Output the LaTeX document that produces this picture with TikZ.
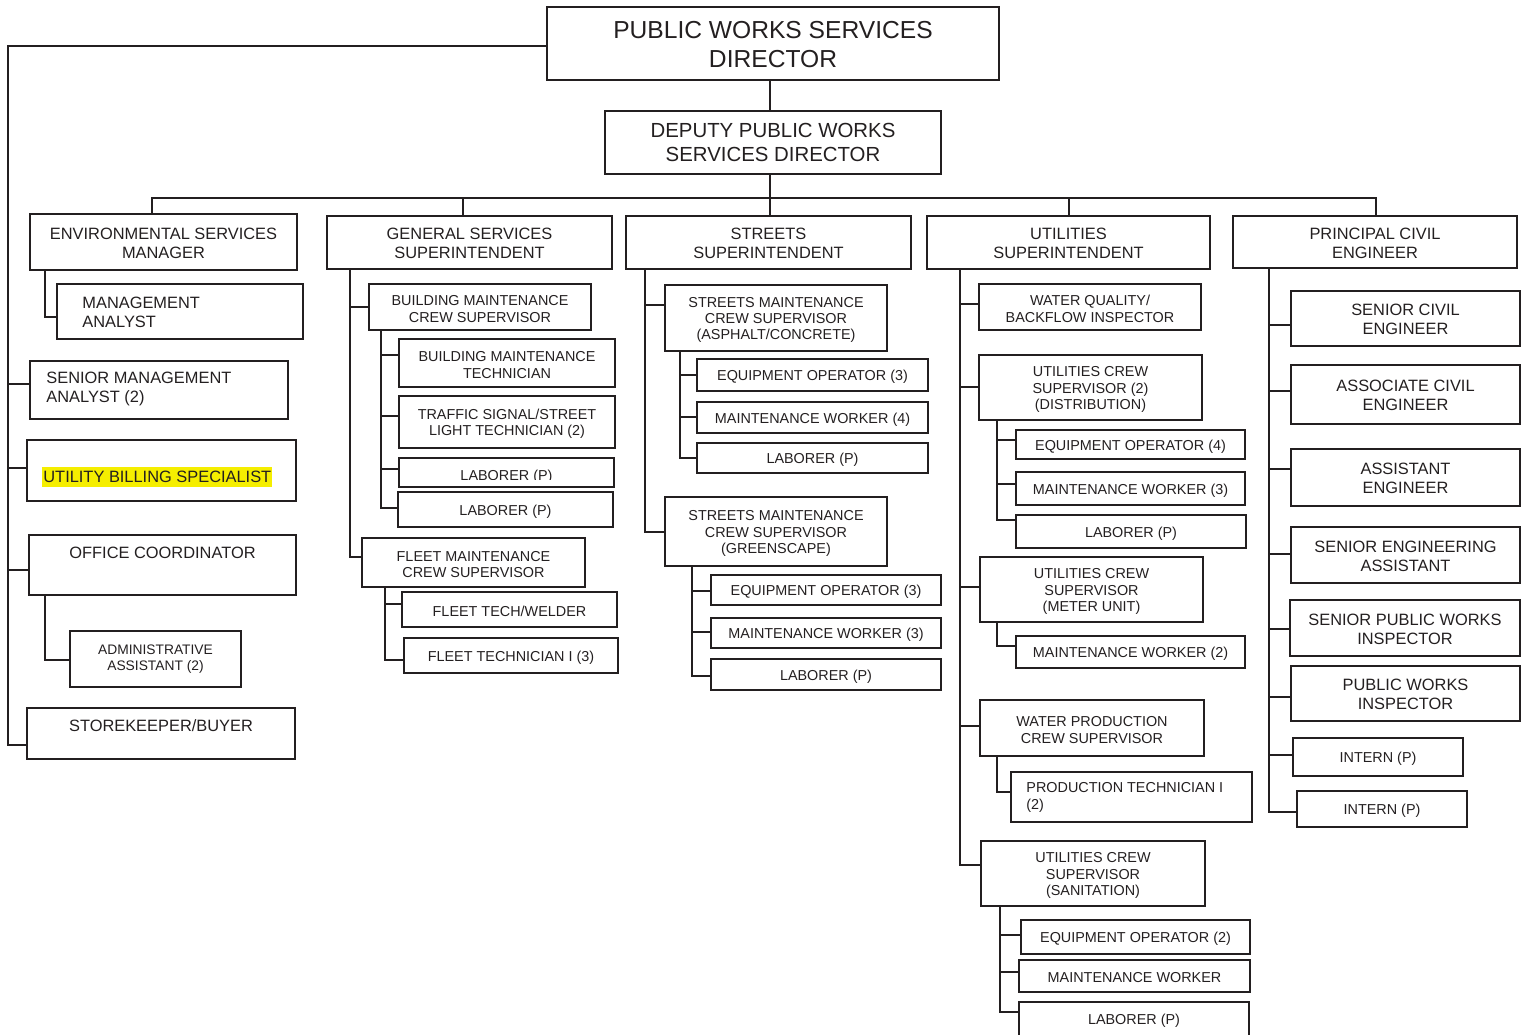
\documentclass[tikz,border=0pt]{standalone}
\usepackage{fontspec}
\setmainfont{Liberation Sans}
\definecolor{ink}{HTML}{231F20}
\definecolor{hl}{HTML}{F5EE00}
\newcommand\fsTitle{\fontsize{12.3}{14.5}\selectfont}
\newcommand\fsDep{\fontsize{10.2}{12}\selectfont}
\newcommand\fsMid{\fontsize{8.2}{9.6}\selectfont}
\newcommand\fsSmall{\fontsize{7.2}{8.2}\selectfont}
\newcommand\fsTiny{\fontsize{6.9}{8.2}\selectfont}
\tikzset{
 box/.style={draw=ink, line width=0.85pt, inner sep=0pt},
 btext/.style={inner sep=0pt, align=center, text=ink, font=\fsSmall, yshift=-1pt},
 fTitle/.style={font=\fsTitle, yshift=0.25pt}, fDep/.style={font=\fsDep, yshift=1pt},
 fMid/.style={font=\fsMid, yshift=0.5pt}, fTiny/.style={font=\fsTiny, yshift=1pt},
 conn/.style={draw=ink, line width=0.85pt},
 lbl/.style={inner sep=0pt, text=ink, align=left, font=\fsMid},
}
\newcommand\ob[7][]{\node[box,minimum width={(#5-#3)*0.5pt},minimum height={(#6-#4)*0.5pt}] (#2) at ({(#3+#5)/2},{(#4+#6)/2}) {};
  \node[btext,#1] (#2t) at (#2.center) {#7};}
\newcommand\br[4]{\draw[conn] (#1,0 |- #2.south) |- (#3.west |- 0,#4);}
\begin{document}
\begin{tikzpicture}[x=0.5pt,y=-0.5pt]
\useasboundingbox (0,0) rectangle (1530,1034);
\clip (0,0) rectangle (1530,1034);
% top
\ob[fTitle]{dir}{547}{7}{999}{80}{PUBLIC WORKS SERVICES\\DIRECTOR}
\ob[fDep]{dep}{605}{111}{941}{174}{DEPUTY PUBLIC WORKS\\SERVICES DIRECTOR}
% level 2
\ob[fMid]{env}{30}{214}{297}{270}{ENVIRONMENTAL SERVICES\\MANAGER}
\ob[fMid]{gs}{327}{216}{612}{269}{GENERAL SERVICES\\SUPERINTENDENT}
\ob[fMid]{st}{626}{216}{911}{269}{STREETS\\SUPERINTENDENT}
\ob[fMid]{ut}{927}{216}{1210}{269}{UTILITIES\\SUPERINTENDENT}
\ob[fMid]{pce}{1233}{216}{1517}{268}{PRINCIPAL CIVIL\\ENGINEER}
\coordinate (busL) at (152,198);
\coordinate (busR) at (1376,198);
\coordinate (busM) at (770,198);
\draw[conn] (dir.south -| busM) -- (dep.north -| busM);
\draw[conn] (dep.south -| busM) -- (st.north -| busM);
\draw[conn] (env.north -| busL) -- (busL) -- (busR) -- (pce.north -| busR);
\draw[conn] (gs.north -| 463,0) -- (463,198);
\draw[conn] (ut.north -| 1069,0) -- (1069,198);
% environmental / left column
\ob{ma}{57}{284}{303}{339}{}
\node[lbl, anchor=west] (maT) at (82,312) {MANAGEMENT\\ANALYST};
\ob{sma}{30}{361}{288}{419}{}
\node[lbl, anchor=west] (smaT) at (46,389) {SENIOR MANAGEMENT\\ANALYST (2)};
\ob{ubs}{27}{440}{296}{501}{}
\fill[hl] (42,467) rectangle (272,487);
\node[lbl, anchor=west] (ubsT) at (43,477) {UTILITY BILLING SPECIALIST};
\ob{oc}{29}{535}{296}{595}{}
\node[lbl] (ocT) at (162.5,553) {OFFICE COORDINATOR};
\ob[fTiny]{aa}{70}{631}{241}{687}{ADMINISTRATIVE\\ASSISTANT (2)}
\ob{sk}{27}{708}{295}{759}{}
\node[lbl] (skT) at (161,726) {STOREKEEPER/BUYER};
\br{45}{env}{ma}{317}
\br{45}{oc}{aa}{660}
\coordinate (lc) at (8,46);
\draw[conn] (dir.west |- lc) -- (lc) -- (lc |- 0,745) -- (sk.west |- 0,745);
\draw[conn] (8,384) -- (sma.west |- 0,384);
\draw[conn] (8,468) -- (ubs.west |- 0,468);
\draw[conn] (8,570) -- (oc.west |- 0,570);
% general services
\ob{bmcs}{369}{284}{591}{330}{BUILDING MAINTENANCE\\CREW SUPERVISOR}
\ob{bmt}{399}{339}{615}{387}{BUILDING MAINTENANCE\\TECHNICIAN}
\ob{tssl}{399}{396}{615}{448}{TRAFFIC SIGNAL/STREET\\LIGHT TECHNICIAN (2)}
\ob{labA}{399}{458}{614}{487}{}
\begin{scope}
\clip (399,458) rectangle (614,479.5);
\node[lbl, font=\fsSmall, anchor=base] (labAT) at (506.5,480.5) {LABORER (P)};
\end{scope}
\ob{labB}{398}{492}{613}{527}{LABORER (P)}
\ob{fmcs}{362}{538}{585}{587}{FLEET MAINTENANCE\\CREW SUPERVISOR}
\ob{ftw}{402}{592}{617}{627}{FLEET TECH/WELDER}
\ob{fti}{404}{638}{618}{673}{FLEET TECHNICIAN I (3)}
\br{350}{gs}{bmcs}{307}
\br{350}{gs}{fmcs}{557}
\br{381}{bmcs}{bmt}{355}
\br{381}{bmcs}{tssl}{416}
\br{381}{bmcs}{labA}{469}
\br{381}{bmcs}{labB}{508}
\br{385}{fmcs}{ftw}{604}
\br{385}{fmcs}{fti}{660}
% streets
\ob{sa}{665}{285}{887}{351}{STREETS MAINTENANCE\\CREW SUPERVISOR\\(ASPHALT/CONCRETE)}
\ob{saEO}{697}{359}{928}{391}{EQUIPMENT OPERATOR (3)}
\ob{saMW}{697}{402}{928}{433}{MAINTENANCE WORKER (4)}
\ob{saLA}{697}{443}{928}{473}{LABORER (P)}
\ob{sg}{665}{497}{887}{566}{STREETS MAINTENANCE\\CREW SUPERVISOR\\(GREENSCAPE)}
\ob{sgEO}{711}{575}{941}{605}{EQUIPMENT OPERATOR (3)}
\ob{sgMW}{711}{618}{941}{648}{MAINTENANCE WORKER (3)}
\ob{sgLA}{711}{659}{941}{690}{LABORER (P)}
\br{645}{st}{sa}{305}
\br{645}{st}{sg}{532}
\br{680}{sa}{saEO}{375}
\br{680}{sa}{saMW}{417}
\br{680}{sa}{saLA}{458}
\br{692}{sg}{sgEO}{591}
\br{692}{sg}{sgMW}{632}
\br{692}{sg}{sgLA}{676}
% utilities
\ob{wq}{979}{284}{1201}{330}{WATER QUALITY/\\BACKFLOW INSPECTOR}
\ob{ud}{979}{355}{1202}{420}{UTILITIES CREW\\SUPERVISOR (2)\\(DISTRIBUTION)}
\ob{udEO}{1016}{430}{1245}{459}{EQUIPMENT OPERATOR (4)}
\ob{udMW}{1016}{472}{1245}{505}{MAINTENANCE WORKER (3)}
\ob{udLA}{1016}{515}{1246}{548}{LABORER (P)}
\ob{um}{980}{557}{1203}{622}{UTILITIES CREW\\SUPERVISOR\\(METER UNIT)}
\ob{umMW}{1016}{636}{1245}{668}{MAINTENANCE WORKER (2)}
\ob{wp}{980}{700}{1204}{756}{WATER PRODUCTION\\CREW SUPERVISOR}
\ob{pt}{1011}{772}{1252}{822}{}
\node[lbl, font=\fsSmall, anchor=west] (ptT) at (1026,797.5) {PRODUCTION TECHNICIAN I\\(2)};
\ob{us}{981}{841}{1205}{906}{UTILITIES CREW\\SUPERVISOR\\(SANITATION)}
\ob{usEO}{1021}{920}{1250}{954}{EQUIPMENT OPERATOR (2)}
\ob{usMW}{1019}{960}{1250}{992}{MAINTENANCE WORKER}
\ob{usLA}{1019}{1002}{1249}{1036}{LABORER (P)}
\br{960}{ut}{wq}{304}
\br{960}{ut}{ud}{387}
\br{960}{ut}{um}{587}
\br{960}{ut}{wp}{726}
\br{960}{ut}{us}{865}
\br{997}{ud}{udEO}{440}
\br{997}{ud}{udMW}{484}
\br{997}{ud}{udLA}{520}
\br{997}{um}{umMW}{646}
\br{997}{wp}{pt}{792}
\br{1000}{us}{usEO}{935}
\br{1000}{us}{usMW}{972}
\br{1000}{us}{usLA}{1012}
% principal civil engineer
\ob[fMid]{sce}{1291}{291}{1520}{346}{SENIOR CIVIL\\ENGINEER}
\ob[fMid]{ace}{1291}{365}{1520}{424}{ASSOCIATE CIVIL\\ENGINEER}
\ob[fMid]{ae}{1291}{449}{1520}{506}{ASSISTANT\\ENGINEER}
\ob[fMid]{sea}{1291}{527}{1520}{583}{SENIOR ENGINEERING\\ASSISTANT}
\ob[fMid]{spwi}{1290}{600}{1520}{656}{SENIOR PUBLIC WORKS\\INSPECTOR}
\ob[fMid]{pwi}{1291}{666}{1520}{721}{PUBLIC WORKS\\INSPECTOR}
\ob{inA}{1293}{738}{1463}{776}{INTERN (P)}
\ob{inB}{1297}{791}{1467}{827}{INTERN (P)}
\br{1269}{pce}{sce}{325}
\br{1269}{pce}{ace}{391}
\br{1269}{pce}{ae}{469}
\br{1269}{pce}{sea}{554}
\br{1269}{pce}{spwi}{629}
\br{1269}{pce}{pwi}{697}
\br{1269}{pce}{inA}{755}
\br{1269}{pce}{inB}{812}
\end{tikzpicture}
\end{document}
